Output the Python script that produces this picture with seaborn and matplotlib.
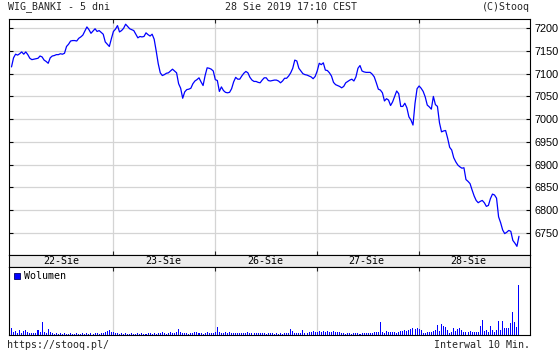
import numpy as np
import pandas as pd
import matplotlib
matplotlib.use("Agg")
import matplotlib.pyplot as plt
from matplotlib.patches import Rectangle
import seaborn as sns

# ---------------- data ----------------
title_left = "WIG_BANKI - 5 dni"
title_mid = "28 Sie 2019 17:10 CEST"
title_right = "(C)Stooq"
footer_left = "https://stooq.pl/"
footer_right = "Interwal 10 Min."
day_labels = ["22-Sie", "23-Sie", "26-Sie", "27-Sie", "28-Sie"]
y_ticks = [6750, 6800, 6850, 6900, 6950, 7000, 7050, 7100, 7150, 7200]

price_day1 = [7115, 7135, 7143, 7141, 7144, 7148, 7143, 7148, 7142, 7134,
              7131, 7132, 7133, 7134, 7139, 7137, 7130, 7127, 7123, 7135,
              7139, 7140, 7142, 7142, 7144, 7143, 7145, 7160, 7165, 7172,
              7173, 7173, 7172, 7178, 7181, 7185, 7194, 7203, 7197, 7189,
              7194, 7199, 7193, 7195, 7191, 7187, 7170, 7165, 7160, 7177]
price_day2 = [7193, 7198, 7206, 7192, 7195, 7200, 7209, 7204, 7199, 7197,
              7195, 7187, 7179, 7182, 7181, 7182, 7190, 7186, 7183, 7187,
              7176, 7150, 7122, 7102, 7096, 7098, 7101, 7102, 7106, 7110,
              7106, 7102, 7078, 7068, 7046, 7060, 7065, 7066, 7068, 7078,
              7084, 7087, 7091, 7082, 7074, 7096, 7113, 7112, 7110, 7106]
price_day3 = [7087, 7085, 7061, 7071, 7063, 7059, 7058, 7059, 7067, 7082,
              7092, 7088, 7088, 7095, 7101, 7105, 7102, 7092, 7086, 7083,
              7083, 7081, 7080, 7086, 7091, 7091, 7085, 7084, 7085, 7086,
              7086, 7084, 7080, 7084, 7090, 7090, 7095, 7102, 7112, 7130,
              7128, 7112, 7106, 7100, 7098, 7097, 7095, 7093, 7089, 7094]
price_day4 = [7106, 7123, 7120, 7124, 7108, 7107, 7102, 7095, 7081, 7076,
              7074, 7072, 7069, 7072, 7080, 7083, 7086, 7088, 7084, 7093,
              7112, 7118, 7106, 7104, 7103, 7103, 7103, 7099, 7093, 7080,
              7066, 7064, 7058, 7040, 7045, 7042, 7030, 7038, 7050, 7062,
              7056, 7028, 7028, 7035, 7025, 7005, 6998, 6987, 7035, 7067]
price_day5 = [7073, 7068, 7061, 7049, 7031, 7027, 7022, 7050, 7032, 7028,
              6992, 6972, 6974, 6975, 6958, 6938, 6932, 6915, 6906, 6899,
              6895, 6892, 6893, 6867, 6863, 6858, 6844, 6831, 6821, 6816,
              6819, 6821, 6816, 6808, 6810, 6825, 6835, 6833, 6826, 6785,
              6772, 6756, 6748, 6751, 6755, 6753, 6733, 6727, 6720, 6742]

vol_day1 = [7, 3, 4, 2, 5, 2, 4, 5, 3, 2, 2, 2, 2, 5, 3, 13, 3, 2, 6, 3,
            2, 1, 2, 1, 2, 1, 2, 1, 1, 2, 1, 1, 2, 1, 1, 2, 1, 2, 1, 2,
            1, 2, 2, 1, 2, 2, 3, 4, 5, 3]
vol_day2 = [3, 2, 2, 1, 2, 1, 2, 1, 1, 2, 1, 1, 2, 1, 2, 1, 1, 2, 2, 1,
            2, 1, 2, 2, 3, 2, 1, 2, 3, 2, 2, 3, 6, 3, 2, 2, 2, 1, 2, 2,
            3, 3, 2, 2, 1, 2, 3, 2, 2, 2]
vol_day3 = [3, 8, 3, 2, 2, 3, 2, 3, 2, 2, 2, 2, 2, 2, 2, 2, 3, 2, 2, 2,
            2, 2, 2, 2, 2, 1, 2, 2, 2, 1, 2, 1, 2, 1, 2, 2, 2, 6, 4, 2,
            2, 2, 2, 5, 2, 2, 3, 3, 4, 3]
vol_day4 = [3, 4, 3, 4, 3, 4, 3, 3, 4, 3, 3, 3, 2, 2, 1, 2, 2, 1, 2, 2,
            2, 1, 2, 2, 2, 2, 2, 2, 3, 3, 3, 13, 3, 2, 4, 3, 3, 3, 3, 2,
            3, 4, 4, 5, 4, 5, 6, 7, 6, 7]
vol_day5 = [6, 5, 2, 2, 3, 3, 3, 4, 5, 10, 4, 11, 9, 8, 5, 2, 3, 7, 4, 6,
            7, 5, 3, 3, 3, 4, 3, 3, 3, 3, 9, 15, 4, 5, 3, 9, 5, 3, 5, 14,
            5, 14, 7, 7, 7, 12, 23, 13, 8, 50]

price = price_day1 + price_day2 + price_day3 + price_day4 + price_day5
volume = vol_day1 + vol_day2 + vol_day3 + vol_day4 + vol_day5
slot = list(range(len(price)))
df = pd.DataFrame({"slot": slot, "price": price, "volume": volume})

# ---------------- style ----------------
sns.set_style("white")
plt.rcParams['font.family'] = ['DejaVu Sans']

W, H = 560, 350
fig = plt.figure(figsize=(5.6, 3.5), dpi=100)
fig.patch.set_facecolor("white")

def fx(px):
    return px / W

def fy(py):
    return 1 - py / H

L, R = 8.5, 529.5
main_top, main_bot = 18.5, 254.5
band_bot = 266.5
vol_bot = 334.5

x0_px, step_px = 11.5, 2.038
xlim = ((L - x0_px) / step_px, (R - x0_px) / step_px)
seps = [50, 100, 150, 200]
grid_c = "#d4d4d4"
blue = "#0000ff"
mono = "DejaVu Sans Mono"
mono_size = 7.2

def style_spines(a):
    for s in a.spines.values():
        s.set_visible(True)
        s.set_color("black")
        s.set_linewidth(0.8)

# main price axes
ax = fig.add_axes([fx(L), fy(main_bot), (R - L) / W, (main_bot - main_top) / H])
sns.lineplot(data=df, x="slot", y="price", ax=ax, color=blue, linewidth=0.9)
ax.set_xlim(*xlim)
y_low = 6750 - (main_bot - 232.7) / 0.4542
y_high = 7200 + (28.3 - main_top) / 0.4542
ax.set_ylim(y_low, y_high)
ax.set_yticks(y_ticks)
ax.set_yticklabels([str(v) for v in y_ticks], family="Liberation Sans", fontsize=7.8)
ax.set_xticks(seps)
ax.set_xticklabels([])
ax.tick_params(axis="y", left=True, right=True, labelleft=False, labelright=True,
               direction="in", length=3, width=0.8, pad=3.5, colors="black")
ax.tick_params(axis="x", top=True, bottom=True, direction="in", length=3, width=0.8,
               labelbottom=False)
ax.grid(True, color=grid_c, linewidth=0.9)
ax.set_axisbelow(True)
ax.set_xlabel("")
ax.set_ylabel("")
style_spines(ax)

# date band
axb = fig.add_axes([fx(L), fy(band_bot), (R - L) / W, (band_bot - main_bot) / H])
axb.set_facecolor("#ececec")
axb.set_xlim(*xlim)
axb.set_ylim(0, 1)
axb.set_xticks([])
axb.set_yticks([])
for k, lab in enumerate(day_labels):
    axb.text(50 * k + 24.3, 0.45, lab, ha="center", va="center",
             family=mono, fontsize=mono_size, color="black")
style_spines(axb)

# volume axes
axv = fig.add_axes([fx(L), fy(vol_bot), (R - L) / W, (vol_bot - band_bot) / H])
sns.barplot(data=df, x="slot", y="volume", ax=axv, native_scale=True, color=blue,
            saturation=1, width=0.5, linewidth=0, errorbar=None, antialiased=False)
axv.set_xlim(*xlim)
axv.set_ylim(0, vol_bot - band_bot)
axv.set_xticks(seps)
axv.set_xticklabels([])
axv.set_yticks([])
axv.tick_params(axis="x", top=True, bottom=False, direction="in", length=3, width=0.8)
axv.grid(True, axis="x", color=grid_c, linewidth=0.9)
axv.set_axisbelow(True)
axv.set_xlabel("")
axv.set_ylabel("")
style_spines(axv)

# legend for volume
fig.add_artist(Rectangle((fx(14.2), fy(279.3)), 6 / W, 6 / H, transform=fig.transFigure,
                         facecolor=blue, edgecolor="#000066", linewidth=0.6))
fig.text(fx(24), fy(276.3), "Wolumen", ha="left", va="center", family=mono,
         fontsize=mono_size, color="black")

# header / footer texts
hy = fy(7.0)
fig.text(fx(7.5), hy, title_left, ha="left", va="center", family=mono, fontsize=mono_size)
fig.text(fx(291), hy, title_mid, ha="center", va="center", family=mono, fontsize=mono_size)
fig.text(fx(530), hy, title_right, ha="right", va="center", family=mono, fontsize=mono_size)
fy_ = fy(344.5)
fig.text(fx(7.5), fy_, footer_left, ha="left", va="center", family=mono, fontsize=mono_size)
fig.text(fx(530), fy_, footer_right, ha="right", va="center", family=mono, fontsize=mono_size)

fig.savefig("out.png", dpi=100, facecolor="white")
